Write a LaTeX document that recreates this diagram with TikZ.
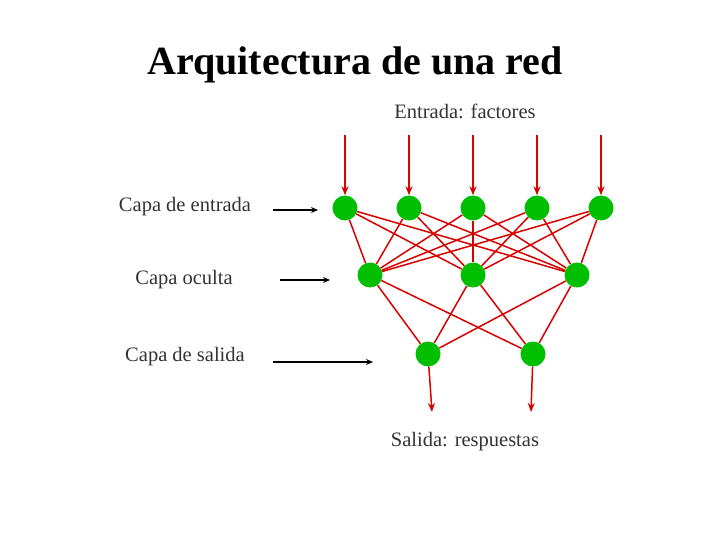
\documentclass[tikz,border=0pt]{standalone}
\usepackage{fontspec}
\setmainfont{Liberation Serif}
\usetikzlibrary{arrows.meta}
\tikzset{
  neuron/.style={circle,fill=green!75!black,inner sep=0pt,minimum size=25pt},
  link/.style={red!85!black,line width=1.5pt},
  feed/.style={red!85!black,line width=1.5pt,-{Stealth[length=9pt,width=7pt]}},
  lbl/.style={font={\fontsize{20.5pt}{22pt}\selectfont},text=black!80}}

\begin{document}
\begin{tikzpicture}[x=1pt,y=-1pt]
\useasboundingbox (0,0) rectangle (720,540);
\node[font=\bfseries\fontsize{40pt}{44pt}\selectfont] (title) at (355,65) {Arquitectura de una red};
% capas
\foreach \i/\x in {1/345,2/409,3/473,4/537,5/601}
  \node[neuron] (e\i) at (\x,208) {};
\foreach \i/\x in {1/370,2/473,3/577}
  \node[neuron] (o\i) at (\x,275) {};
\foreach \i/\x in {1/428,2/533}
  \node[neuron] (s\i) at (\x,354) {};
% conexiones
\foreach \i in {1,...,5}
  \foreach \j in {1,2,3}
    \draw[link] (e\i) -- (o\j);
\foreach \j in {1,2,3}
  \foreach \k in {1,2}
    \draw[link] (o\j) -- (s\k);
% entradas y salidas
\foreach \i/\x in {1/345,2/409,3/473,4/537,5/601} {
  \coordinate (in\i) at (\x,135);
  \draw[feed] (in\i) -- (e\i.north);
}
\foreach \k/\x in {1/432,2/531} {
  \coordinate (out\k) at (\x,412);
  \draw[feed] (s\k) -- (out\k);
}
% textos
\node[lbl] (tin) at (465,111) {Entrada: factores};
\node[lbl] (tout) at (465,442) {Salida: respuestas};
\node[lbl] (lce) at (185,207) {Capa de entrada};
\node[lbl] (lco) at (184,280) {Capa oculta};
\node[lbl] (lcs) at (185,357) {Capa de salida};
\coordinate (ae) at (318,210);
\coordinate (ao) at (330,280);
\coordinate (as) at (373,362);
\draw[-{Stealth[length=7pt,width=6pt]},line width=1.5pt] (273,210) -- (ae);
\draw[-{Stealth[length=7pt,width=6pt]},line width=1.5pt] (280,280) -- (ao);
\draw[-{Stealth[length=7pt,width=6pt]},line width=2pt] (273,362) -- (as);
\end{tikzpicture}
\end{document}
